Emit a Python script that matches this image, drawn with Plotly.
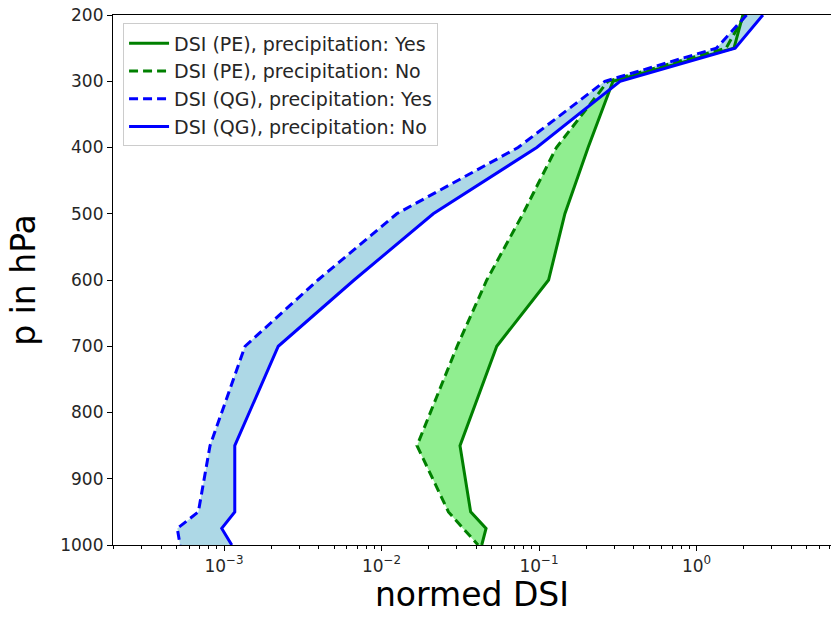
import plotly.graph_objects as go

pressure = [200, 250, 300, 400, 500, 600, 700, 850, 950, 975, 1000]

pe_yes = [1.97, 1.73, 0.295, 0.205, 0.146, 0.115, 5.39e-2, 3.15e-2, 3.68e-2, 4.61e-2, 4.33e-2]
pe_no = [2.03, 1.54, 0.274, 0.129, 7.91e-2, 4.66e-2, 3.02e-2, 1.68e-2, 2.66e-2, 3.29e-2, 4.10e-2]
qg_yes = [2.08, 1.34, 0.262, 7.36e-2, 1.25e-2, 3.95e-3, 1.36e-3, 8.15e-4, 6.87e-4, 5.05e-4, 5.26e-4]
qg_no = [2.64, 1.76, 0.327, 9.67e-2, 2.13e-2, 6.7e-3, 2.21e-3, 1.17e-3, 1.17e-3, 9.67e-4, 1.12e-3]

xtick_vals = [1e-3, 1e-2, 1e-1, 1e0]
xtick_text = ["10<sup>\u22123</sup>", "10<sup>\u22122</sup>", "10<sup>\u22121</sup>", "10<sup>0</sup>"]
ytick_vals = [200, 300, 400, 500, 600, 700, 800, 900, 1000]

minor_vals = [k * 10.0 ** n for n in range(-4, 1) for k in range(2, 10)]

FONT = "DejaVu Sans"
GREEN = "#008000"
BLUE = "#0000ff"

fig = go.Figure()

# filled bands
fig.add_trace(go.Scatter(
    x=pe_yes + pe_no[::-1], y=pressure + pressure[::-1],
    fill="toself", fillcolor="#90ee90", line=dict(width=0),
    mode="lines", showlegend=False, hoverinfo="skip"))
fig.add_trace(go.Scatter(
    x=qg_yes + qg_no[::-1], y=pressure + pressure[::-1],
    fill="toself", fillcolor="#add8e6", line=dict(width=0),
    mode="lines", showlegend=False, hoverinfo="skip"))

fig.add_trace(go.Scatter(x=pe_yes, y=pressure, mode="lines",
                         name="DSI (PE), precipitation: Yes",
                         line=dict(color=GREEN, width=3)))
fig.add_trace(go.Scatter(x=pe_no, y=pressure, mode="lines",
                         name="DSI (PE), precipitation: No",
                         line=dict(color=GREEN, width=3, dash="9px,5px")))
fig.add_trace(go.Scatter(x=qg_yes, y=pressure, mode="lines",
                         name="DSI (QG), precipitation: Yes",
                         line=dict(color=BLUE, width=3, dash="9px,5px")))
fig.add_trace(go.Scatter(x=qg_no, y=pressure, mode="lines",
                         name="DSI (QG), precipitation: No",
                         line=dict(color=BLUE, width=3)))

fig.update_layout(
    width=831, height=621,
    margin=dict(l=113, r=0, t=15, b=76, autoexpand=False),
    paper_bgcolor="white", plot_bgcolor="white",
    font=dict(family=FONT, color="#262626"),
    showlegend=True,
    legend=dict(
        x=0.014, y=0.984, xanchor="left", yanchor="top",
        bgcolor="rgba(255,255,255,0.8)", bordercolor="#cccccc", borderwidth=1,
        font=dict(family=FONT, size=19, color="#262626"),
        tracegroupgap=0, itemwidth=40,
    ),
    xaxis=dict(
        type="log", automargin=False,
        range=[-3.705, 0.854],
        tickmode="array", tickvals=xtick_vals, ticktext=xtick_text,
        ticks="outside", ticklen=5, tickwidth=1, tickcolor="black",
        tickfont=dict(family=FONT, size=17, color="#262626"),
        showgrid=False, zeroline=False,
        showline=True, linecolor="black", linewidth=1.2, mirror=True,
        minor=dict(tickmode="array", tickvals=minor_vals, ticks="outside",
                   ticklen=3, tickwidth=1, tickcolor="black", showgrid=False),
        title=dict(text="normed DSI", font=dict(family=FONT, size=33, color="black"), standoff=8),
    ),
    yaxis=dict(
        range=[1000, 200], automargin=False,
        tickmode="array", tickvals=ytick_vals,
        ticks="outside", ticklen=5, tickwidth=1, tickcolor="black",
        tickfont=dict(family=FONT, size=17, color="#262626"),
        showgrid=False, zeroline=False,
        showline=True, linecolor="black", linewidth=1.2,
        title=dict(text="p in hPa", font=dict(family=FONT, size=33, color="black"), standoff=14),
    ),
)

fig.write_html(
    "out.html",
    config={"displayModeBar": False},
    post_script="document.body.style.margin='0';document.body.style.overflow='hidden';",
)
